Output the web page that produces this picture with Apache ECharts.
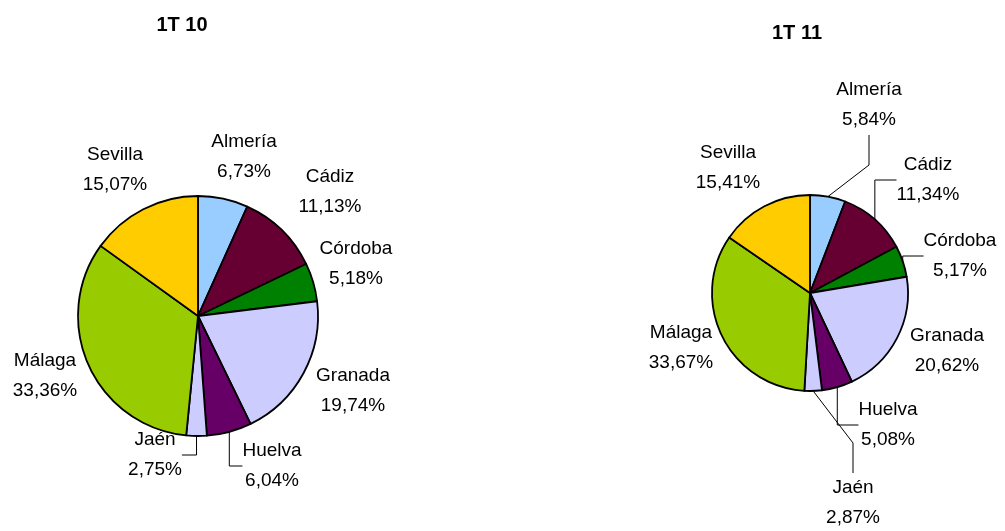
<!DOCTYPE html>
<html>
<head>
<meta charset="utf-8">
<script src="https://cdn.jsdelivr.net/npm/echarts@6/dist/echarts.min.js"></script>
<style>
  html, body { margin: 0; padding: 0; background: #fff; }
  #chart { width: 1005px; height: 531px; }
</style>
</head>
<body>
<div id="chart"></div>
<script>
var provincias = ['Almería', 'Cádiz', 'Córdoba', 'Granada', 'Huelva', 'Jaén', 'Málaga', 'Sevilla'];
var valores1T10 = [6.73, 11.13, 5.18, 19.74, 6.04, 2.75, 33.36, 15.07];
var valores1T11 = [5.84, 11.34, 5.17, 20.62, 5.08, 2.87, 33.67, 15.41];
var colores = ['#99CCFF', '#660033', '#008000', '#CCCCFF', '#660066', '#CCCCFF', '#99CC00', '#FFCC00'];

// label positions (centre of the two-line text) for each pie
var posIzq = [[244, 157], [330, 192], [356, 264], [353, 391], [272, 466], [155, 455], [45, 376], [115, 170]];
var posDer = [[869, 105], [928, 180], [960, 256], [947, 351], [888, 425], [853, 503], [681, 348], [728, 168]];
var conLinea = [[4, 5], [0, 1, 2, 4, 5]];

function datos(valores, s) {
  return provincias.map(function (p, i) {
    return {
      name: p,
      value: valores[i],
      itemStyle: { color: colores[i] },
      labelLine: { show: conLinea[s].indexOf(i) >= 0 }
    };
  });
}

function serie(valores, s, centro, radio) {
  return {
    type: 'pie',
    center: centro,
    radius: radio,
    startAngle: 90,
    clockwise: true,
    animation: false,
    silent: true,
    itemStyle: { borderColor: '#000', borderWidth: 1.8 },
    label: {
      show: true,
      overflow: 'none',
      formatter: function (p) {
        return p.name + '\n' + p.value.toFixed(2).replace('.', ',') + '%';
      },
      fontFamily: 'Liberation Sans, Arial, sans-serif',
      fontSize: 19,
      lineHeight: 30,
      color: '#000',
      align: 'center'
    },
    labelLine: {
      show: true,
      lineStyle: { color: '#000', width: 1 }
    },
    labelLayout: function (params) {
      var pos = (s === 0 ? posIzq : posDer)[params.dataIndex];
      return { x: pos[0], y: pos[1], align: 'center', verticalAlign: 'middle' };
    },
    data: datos(valores, s)
  };
}

var chart = echarts.init(document.getElementById('chart'));
chart.setOption({
  backgroundColor: '#fff',
  title: [
    { text: '1T 10', left: 177, top: 10, textAlign: 'center',
      textStyle: { fontFamily: 'Liberation Sans, Arial, sans-serif', fontSize: 20, fontWeight: 'bold', color: '#000' } },
    { text: '1T 11', left: 792, top: 18, textAlign: 'center',
      textStyle: { fontFamily: 'Liberation Sans, Arial, sans-serif', fontSize: 20, fontWeight: 'bold', color: '#000' } }
  ],
  series: [
    serie(valores1T10, 0, [198, 316], 120),
    serie(valores1T11, 1, [810, 293], 98)
  ]
});
</script>
</body>
</html>
